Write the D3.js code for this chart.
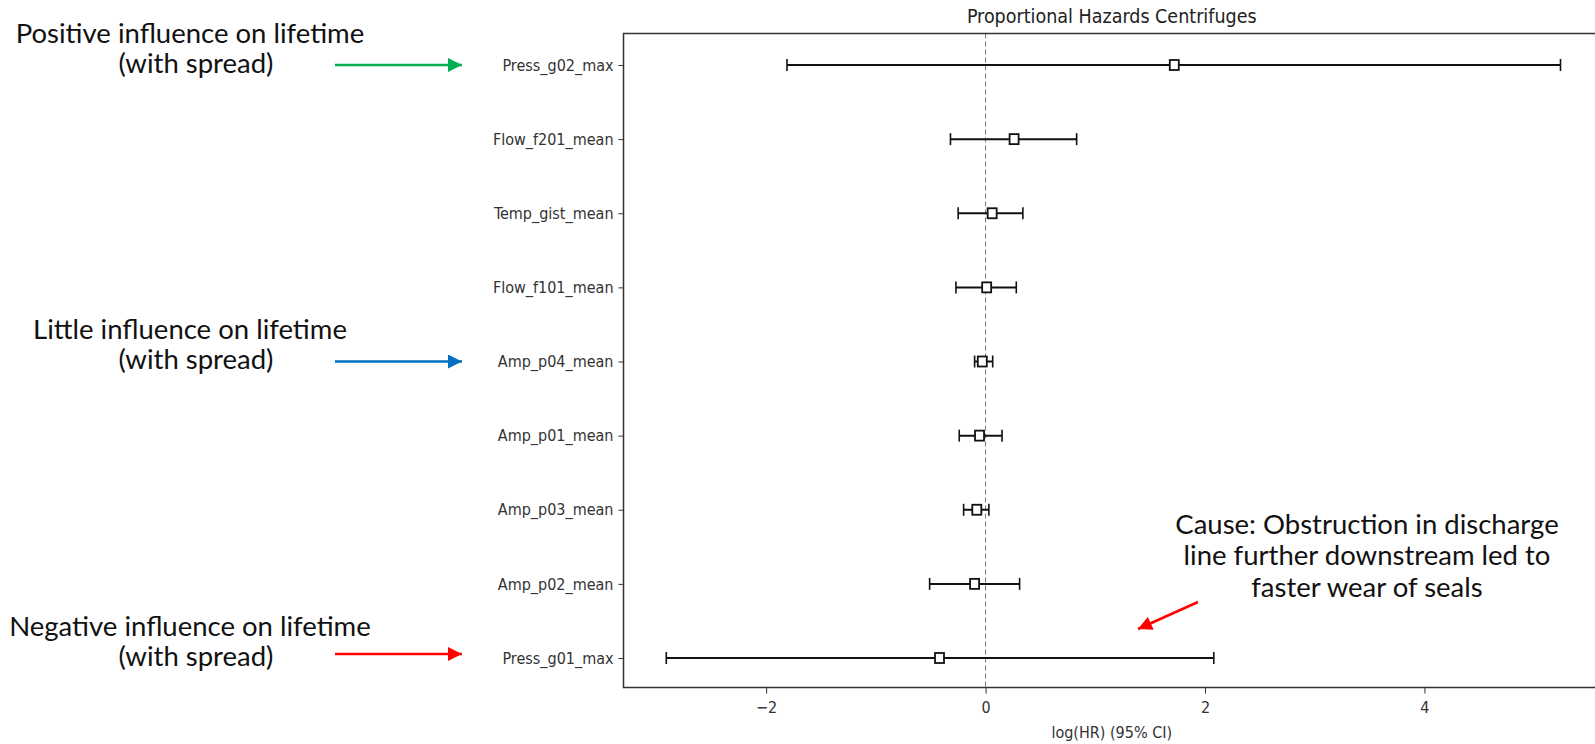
<!DOCTYPE html>
<html>
<head>
<meta charset="utf-8">
<script src="https://cdn.jsdelivr.net/npm/d3@7"></script>
<style>
  body { margin: 0; background: #fff; }
  svg { display: block; }
  .tick text { font-family: "DejaVu Sans Condensed", "DejaVu Sans", sans-serif; font-size: 16px; fill: #333; }
  .note { font-family: Lato, "Open Sans", sans-serif; font-size: 27.5px; fill: #111; }
</style>
</head>
<body>
<svg id="chart" width="1595" height="744"></svg>
<script>
// covariates, top to bottom
var covariates = ["Press_g02_max", "Flow_f201_mean", "Temp_gist_mean", "Flow_f101_mean",
                  "Amp_p04_mean", "Amp_p01_mean", "Amp_p03_mean", "Amp_p02_mean", "Press_g01_max"];
var coef  = [1.72, 0.26, 0.06, 0.01, -0.03, -0.055, -0.08, -0.10, -0.42];
var lower = [-1.81, -0.32, -0.25, -0.27, -0.10, -0.24, -0.20, -0.51, -2.91];
var upper = [5.24, 0.83, 0.34, 0.28, 0.065, 0.15, 0.03, 0.31, 2.08];
var xTicks = [-2, 0, 2, 4];

var leftNotes = [
  { lines: ["Positive influence on lifetime", "(with spread)"], row: "Press_g02_max", color: "#00b050", dy: 0 },
  { lines: ["Little influence on lifetime", "(with spread)"], row: "Amp_p04_mean", color: "#0070c0", dy: 0 },
  { lines: ["Negative influence on lifetime", "(with spread)"], row: "Press_g01_max", color: "#ff0000", dy: -4 }
];
var causeNote = ["Cause: Obstruction in discharge", "line further downstream led to", "faster wear of seals"];

var data = covariates.map(function(c, i) {
    return { name: c, coef: coef[i], lo: lower[i], hi: upper[i] };
});

var svg = d3.select("#chart");
var plotLeft = 623.5, plotTop = 33.5, plotBottom = 687.5, plotRight = 1600;

var x = d3.scaleLinear().domain([-3.30, 5.60]).range([plotLeft, plotRight]);
var y = d3.scalePoint().domain(covariates).range([65, 658]);

// zero line
svg.append("line")
   .attr("x1", x(0)).attr("x2", x(0))
   .attr("y1", plotTop).attr("y2", plotBottom)
   .attr("stroke", "#777").attr("stroke-width", 1)
   .attr("stroke-dasharray", "5,3");

// axes frame (right side runs off the picture)
svg.append("path")
   .attr("d", "M" + plotRight + "," + plotTop + "H" + plotLeft + "V" + plotBottom + "H" + plotRight)
   .attr("fill", "none").attr("stroke", "#333").attr("stroke-width", 1.5);

var xAxis = svg.append("g")
   .attr("transform", "translate(0," + plotBottom + ")")
   .call(d3.axisBottom(x).tickValues(xTicks).tickSize(6).tickPadding(8)
        .tickFormat(function(d) { return d < 0 ? "\u2212" + Math.abs(d) : d; }));
xAxis.select(".domain").remove();
xAxis.selectAll(".tick line").attr("stroke", "#333");

var yAxis = svg.append("g")
   .attr("transform", "translate(" + plotLeft + ",0)")
   .call(d3.axisLeft(y).tickSize(5).tickPadding(5));
yAxis.select(".domain").remove();
yAxis.selectAll(".tick line").attr("stroke", "#333");

svg.append("text")
   .attr("x", (plotLeft + plotRight) / 2).attr("y", 23)
   .attr("text-anchor", "middle")
   .attr("font-family", "DejaVu Sans Condensed, DejaVu Sans, sans-serif")
   .attr("font-size", "19.5px").attr("fill", "#222")
   .text("Proportional Hazards Centrifuges");

svg.append("text")
   .attr("x", (plotLeft + plotRight) / 2).attr("y", 738)
   .attr("text-anchor", "middle")
   .attr("font-family", "DejaVu Sans Condensed, DejaVu Sans, sans-serif")
   .attr("font-size", "16px").attr("fill", "#333")
   .text("log(HR) (95% CI)");

// error bars
var rows = svg.selectAll(".row").data(data).enter().append("g").attr("class", "row");
rows.append("line")
    .attr("x1", function(d) { return x(d.lo); })
    .attr("x2", function(d) { return x(d.hi); })
    .attr("y1", function(d) { return y(d.name); })
    .attr("y2", function(d) { return y(d.name); })
    .attr("stroke", "#111").attr("stroke-width", 2);
["lo", "hi"].forEach(function(k) {
    rows.append("line")
        .attr("x1", function(d) { return x(d[k]); })
        .attr("x2", function(d) { return x(d[k]); })
        .attr("y1", function(d) { return y(d.name) - 6; })
        .attr("y2", function(d) { return y(d.name) + 6; })
        .attr("stroke", "#111").attr("stroke-width", 1.6);
});
rows.append("rect")
    .attr("x", function(d) { return x(d.coef) - 4.5; })
    .attr("y", function(d) { return y(d.name) - 5; })
    .attr("width", 9).attr("height", 10)
    .attr("fill", "#fff").attr("stroke", "#111").attr("stroke-width", 1.8);

// arrow heads
var defs = svg.append("defs");
function arrowHead(id, color) {
    defs.append("marker")
        .attr("id", id).attr("viewBox", "0 0 10 10")
        .attr("refX", 10).attr("refY", 5)
        .attr("markerUnits", "userSpaceOnUse")
        .attr("markerWidth", 16).attr("markerHeight", 14)
        .attr("orient", "auto")
        .append("path").attr("d", "M0,0L10,5L0,10Z").attr("fill", color);
}

leftNotes.forEach(function(n, i) {
    var ry = y(n.row);
    arrowHead("ah" + i, n.color);
    svg.append("line")
       .attr("x1", 335).attr("x2", 462)
       .attr("y1", ry + n.dy).attr("y2", ry + n.dy)
       .attr("stroke", n.color).attr("stroke-width", 2.5)
       .attr("marker-end", "url(#ah" + i + ")");
    svg.append("text").attr("class", "note")
       .attr("x", 190).attr("y", ry - 22.5)
       .attr("text-anchor", "middle")
       .text(n.lines[0]);
    svg.append("text").attr("class", "note")
       .attr("x", 196).attr("y", ry + 7.5)
       .attr("text-anchor", "middle")
       .text(n.lines[1]);
});

svg.selectAll(".cause").data(causeNote).enter().append("text")
   .attr("class", "note cause")
   .attr("x", 1367).attr("y", function(d, i) { return 533.5 + i * 31.5; })
   .attr("text-anchor", "middle")
   .text(function(d) { return d; });

arrowHead("ahc", "#ff0000");
svg.append("line")
   .attr("x1", 1198).attr("y1", 602)
   .attr("x2", 1138).attr("y2", 629)
   .attr("stroke", "#ff0000").attr("stroke-width", 2.5)
   .attr("marker-end", "url(#ahc)");
</script>
</body>
</html>
